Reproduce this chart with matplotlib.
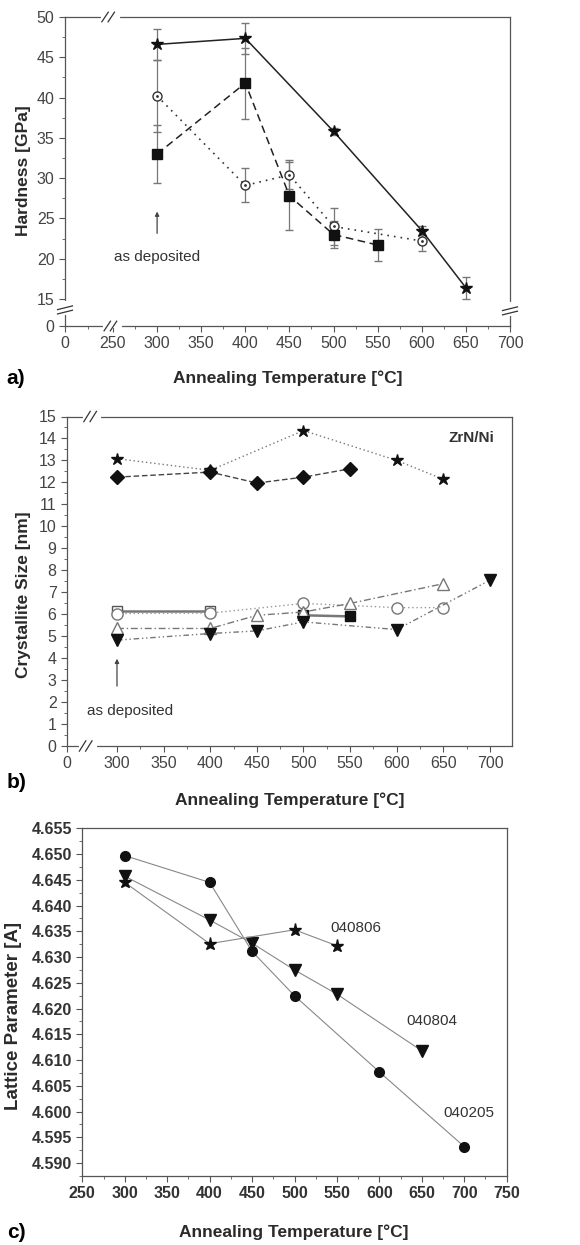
import numpy as np
import matplotlib
matplotlib.use('Agg')
import matplotlib.pyplot as plt
from matplotlib.ticker import FixedLocator, MultipleLocator

plt.rcParams['font.family'] = ['Liberation Sans', 'DejaVu Sans']

# ---- panel a: hardness ----
a_star_x = [300, 400, 500, 600, 650]
a_star_y = [46.6, 47.35, 35.8, 23.5, 16.4]
a_star_e = [1.9, 1.9, 0.4, 0.5, 1.35]
a_sq_x = [300, 400, 450, 500, 550]
a_sq_y = [33.0, 41.8, 27.8, 23.0, 21.7]
a_sq_e = [3.6, 4.4, 4.2, 1.7, 2.0]
a_circ_x = [300, 400, 450, 500, 600]
a_circ_y = [40.2, 29.1, 30.4, 24.0, 22.2]
a_circ_e = [4.5, 2.1, 1.8, 2.3, 1.2]

# ---- panel b: crystallite size ----
b_star_x = [300, 400, 500, 600, 650]
b_star_y = [13.08, 12.55, 14.36, 13.0, 12.14]
b_dia_x = [300, 400, 450, 500, 550]
b_dia_y = [12.24, 12.47, 11.97, 12.24, 12.62]
b_osq_x = [300, 400]
b_osq_y = [6.15, 6.15]
b_fsq_x = [500, 550]
b_fsq_y = [5.95, 5.9]
b_circ_x = [300, 400, 500, 600, 650]
b_circ_y = [6.03, 6.05, 6.49, 6.3, 6.3]
b_tri_x = [300, 400, 450, 500, 550, 650]
b_tri_y = [5.35, 5.35, 5.95, 6.1, 6.49, 7.39]
b_dtri_x = [300, 400, 450, 500, 600, 700]
b_dtri_y = [4.82, 5.12, 5.24, 5.65, 5.3, 7.55]

# ---- panel c: lattice parameter ----
c_circ_x = [300, 400, 450, 500, 600, 700]
c_circ_y = [4.6497, 4.6445, 4.6311, 4.6225, 4.6077, 4.5932]
c_dtri_x = [300, 400, 450, 500, 550, 650]
c_dtri_y = [4.6457, 4.6372, 4.6327, 4.6275, 4.6228, 4.6118]
c_star_x = [300, 400, 500, 550]
c_star_y = [4.6445, 4.6326, 4.6353, 4.6322]

W, H = 580, 1245
fig = plt.figure(figsize=(W / 100, H / 100), dpi=100)


def box(l, t, r, b):
    return [l / W, 1 - b / H, (r - l) / W, (b - t) / H]


def px(x, y):
    return x / W, 1 - y / H


def brk(ax, x, y, horiz=True):
    # little "//" break mark drawn in axes coords
    d = 0.012
    if horiz:
        ax.plot([x - 0.004, x + 0.028], [y, y], color='white', lw=3,
                transform=ax.transAxes, clip_on=False, zorder=5)
        for dx in (0, 0.014):
            ax.plot([x + dx - d * 0.6, x + dx + d * 0.6], [y - d * 1.3, y + d * 1.3],
                    color='#333333', lw=0.9, transform=ax.transAxes, clip_on=False, zorder=6)
    else:
        ax.plot([x, x], [y - 0.004, y + 0.028], color='white', lw=3,
                transform=ax.transAxes, clip_on=False, zorder=5)
        for dy in (0, 0.014):
            ax.plot([x - d * 1.4, x + d * 1.4], [y + dy - d * 0.5, y + dy + d * 0.5],
                    color='#333333', lw=0.9, transform=ax.transAxes, clip_on=False, zorder=6)


def style(ax, bold=False, size=11.5):
    for s in ax.spines.values():
        s.set_color('#555555')
        s.set_linewidth(0.9)
    ax.tick_params(which='both', direction='out', color='#555555', labelcolor='#444444',
                   labelsize=size)
    ax.tick_params(which='major', length=4)
    ax.tick_params(which='minor', length=2)
    if bold:
        for lab in ax.get_xticklabels() + ax.get_yticklabels():
            lab.set_fontweight('bold')
            lab.set_color('#333333')


tick_gray = '#777777'
lab_kw = dict(fontsize=12.5, fontweight='bold', color='#2a2a2a')

# ================= panel a =================
ax = fig.add_axes(box(65, 17, 510, 326))
x0a = 195.6
y0a = 11.65
ax.errorbar(a_circ_x, a_circ_y, yerr=a_circ_e, color='#333333', ls=(0, (1, 3)), lw=1.2,
            marker='o', ms=6.5, mfc='white', mec='#333333', ecolor=tick_gray, elinewidth=0.9,
            capsize=3, zorder=3)
ax.plot(a_circ_x, a_circ_y, ls='none', marker='.', ms=2, color='#333333', zorder=4)
ax.errorbar(a_sq_x, a_sq_y, yerr=a_sq_e, color='#222222', ls=(0, (5, 3)), lw=1.1,
            marker='s', ms=6.5, mfc='#111111', mec='#111111', ecolor=tick_gray, elinewidth=0.9,
            capsize=3, zorder=3)
ax.errorbar(a_star_x, a_star_y, yerr=a_star_e, color='#222222', ls='-', lw=1.1,
            marker='*', ms=9, mfc='#111111', mec='#111111', ecolor=tick_gray, elinewidth=0.9,
            capsize=3, zorder=3)
ax.set_xlim(x0a, 700)
ax.set_ylim(y0a, 50)
ax.xaxis.set_major_locator(FixedLocator([x0a] + list(range(250, 701, 50))))
ax.set_xticklabels(['0'] + [str(v) for v in range(250, 701, 50)])
ax.xaxis.set_minor_locator(FixedLocator([222] + list(range(275, 700, 50))))
ax.yaxis.set_major_locator(FixedLocator([y0a] + list(range(15, 51, 5))))
ax.set_yticklabels(['0'] + [str(v) for v in range(15, 51, 5)])
ax.yaxis.set_minor_locator(FixedLocator(np.arange(17.5, 50, 5)))
style(ax)
brk(ax, 0.095, 0.0)
brk(ax, 0.09, 1.0)
brk(ax, 0.0, 0.045, horiz=False)
brk(ax, 1.0, 0.042, horiz=False)
ax.annotate('', xy=(300, 26.2), xytext=(300, 22.8),
            arrowprops=dict(arrowstyle='-|>', color='#444444', lw=0.9, mutation_scale=6))
ax.text(300, 20.2, 'as deposited', ha='center', va='center', fontsize=11, color='#333333')

fig.text(*px(24, 171), 'Hardness [GPa]', rotation=90, ha='center', va='center', **lab_kw)
fig.text(*px(288, 378), 'Annealing Temperature [°C]', ha='center', va='center', **lab_kw)
fig.text(*px(6, 378), 'a)', ha='left', va='center', fontsize=15, fontweight='bold')

# ================= panel b =================
ax = fig.add_axes(box(67, 416.5, 512, 746))
x0b = 246.4
ax.plot(b_star_x, b_star_y, color='#777777', ls=(0, (1, 2)), lw=1,
        marker='*', ms=9, mfc='#111111', mec='#111111', zorder=3)
ax.plot(b_dia_x, b_dia_y, color='#444444', ls=(0, (4, 2)), lw=1,
        marker='D', ms=7, mfc='#111111', mec='#111111', zorder=3)
ax.plot(b_osq_x, b_osq_y, color='#777777', ls='-', lw=1.8,
        marker='s', ms=7, mfc='white', mec='#555555', zorder=3)
ax.plot(b_fsq_x, b_fsq_y, color='#777777', ls='-', lw=1.8,
        marker='s', ms=7, mfc='#111111', mec='#111111', zorder=3)
ax.plot(b_circ_x, b_circ_y, color='#999999', ls=(0, (1, 2)), lw=1,
        marker='o', ms=8, mfc='white', mec='#777777', zorder=4)
ax.plot(b_tri_x, b_tri_y, color='#777777', ls=(0, (5, 2, 1, 2)), lw=1,
        marker='^', ms=9, mfc='white', mec='#777777', zorder=4)
ax.plot(b_dtri_x, b_dtri_y, color='#777777', ls=(0, (4, 2, 1, 2, 1, 2)), lw=1,
        marker='v', ms=9, mfc='#111111', mec='#111111', zorder=5)
ax.set_xlim(x0b, 723.6)
ax.set_ylim(0, 15)
ax.xaxis.set_major_locator(FixedLocator([x0b] + list(range(300, 701, 50))))
ax.set_xticklabels(['0'] + [str(v) for v in range(300, 701, 50)])
ax.xaxis.set_minor_locator(FixedLocator(list(range(325, 724, 50))))
ax.yaxis.set_major_locator(MultipleLocator(1))
ax.yaxis.set_minor_locator(MultipleLocator(0.5))
style(ax)
brk(ax, 0.035, 0.0)
brk(ax, 0.045, 1.0)
ax.text(0.96, 0.935, 'ZrN/Ni', transform=ax.transAxes, ha='right', va='center',
        fontsize=11, fontweight='bold', color='#333333')
ax.annotate('', xy=(300, 4.1), xytext=(300, 2.6),
            arrowprops=dict(arrowstyle='-|>', color='#444444', lw=0.9, mutation_scale=6))
ax.text(300 - 32, 1.6, 'as deposited', ha='left', va='center', fontsize=11, color='#333333')

fig.text(*px(24, 595), 'Crystallite Size [nm]', rotation=90, ha='center', va='center', **lab_kw)
fig.text(*px(290, 800), 'Annealing Temperature [°C]', ha='center', va='center', **lab_kw)
fig.text(*px(7, 782), 'b)', ha='left', va='center', fontsize=15, fontweight='bold')

# ================= panel c =================
ax = fig.add_axes(box(82.3, 828.3, 506.7, 1176))
ax.plot(c_circ_x, c_circ_y, color='#888888', lw=0.8, marker='o', ms=7,
        mfc='#111111', mec='#111111', zorder=3)
ax.plot(c_dtri_x, c_dtri_y, color='#888888', lw=0.8, marker='v', ms=8.5,
        mfc='#111111', mec='#111111', zorder=3)
ax.plot(c_star_x, c_star_y, color='#888888', lw=0.8, marker='*', ms=9.5,
        mfc='#111111', mec='#111111', zorder=3)
ax.text(572, 4.6357, '040806', ha='center', va='center', fontsize=11, color='#333333')
ax.text(662, 4.6175, '040804', ha='center', va='center', fontsize=11, color='#333333')
ax.text(705, 4.5997, '040205', ha='center', va='center', fontsize=11, color='#333333')
ax.set_xlim(250, 750)
ax.set_ylim(4.5875, 4.655)
ax.xaxis.set_major_locator(MultipleLocator(50))
ax.xaxis.set_minor_locator(MultipleLocator(25))
ax.yaxis.set_major_locator(MultipleLocator(0.005))
ax.yaxis.set_minor_locator(MultipleLocator(0.0025))
ax.yaxis.set_major_formatter(matplotlib.ticker.FormatStrFormatter('%.3f'))
style(ax, bold=True, size=11.5)

fig.text(*px(14, 1016), 'Lattice Parameter [A]', rotation=90, ha='center', va='center',
         fontsize=13.5, fontweight='bold', color='#2a2a2a')
fig.text(*px(294, 1232), 'Annealing Temperature [°C]', ha='center', va='center', **lab_kw)
fig.text(*px(7, 1232), 'c)', ha='left', va='center', fontsize=15, fontweight='bold')

fig.savefig('out.png', dpi=100)
